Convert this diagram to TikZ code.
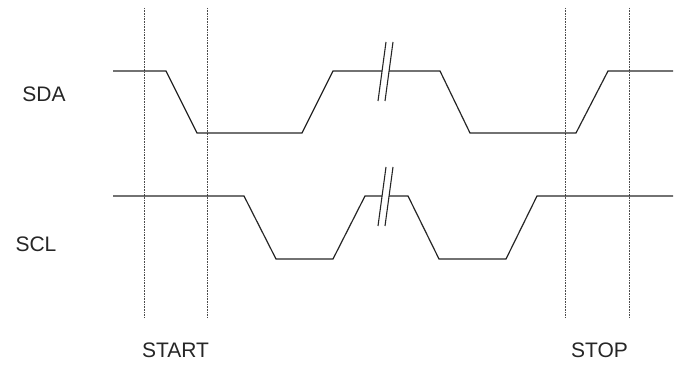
\documentclass[tikz,border=0pt]{standalone}
\usepackage{fontspec}
\setmainfont{Liberation Sans}
\begin{document}
\begin{tikzpicture}[x=1pt,y=-1pt,
  sig/.style={draw=black!85,line width=1.2pt,line join=miter},
  guide/.style={draw=black!70,line width=0.9pt,dash pattern=on 0.8pt off 0.8pt},
  brk/.style={draw=black!85,line width=1.1pt},
  lbl/.style={inner sep=0pt,font=\fontsize{21}{25}\selectfont,text=black!85}]
\useasboundingbox (0,0) rectangle (674,366);
% guide lines
\coordinate (g1t) at (144.5,8);  \coordinate (g1b) at (144.5,318);
\coordinate (g2t) at (207.5,8);  \coordinate (g2b) at (207.5,318);
\coordinate (g3t) at (565.5,8);  \coordinate (g3b) at (565.5,318);
\coordinate (g4t) at (629,8);    \coordinate (g4b) at (629,318);
\draw[guide] (g1t) -- (g1b);
\draw[guide] (g2t) -- (g2b);
\draw[guide] (g3t) -- (g3b);
\draw[guide] (g4t) -- (g4b);
% SDA
\draw[sig] (113,71) -- (166,71) -- (197,133) -- (302,133) -- (333,71) -- (382,71);
\draw[sig] (389,71) -- (440,71) -- (470,133) -- (576,133) -- (608,71) -- (673,71);
\draw[brk] (378,101) -- (386,42);
\draw[brk] (385,101) -- (393,42);
% SCL
\draw[sig] (113,196) -- (244,196) -- (276,259) -- (333,259) -- (365,196) -- (382,196);
\draw[sig] (389,196) -- (408,196) -- (439,259) -- (506,259) -- (537,196) -- (673,196);
\draw[brk] (378,226) -- (386,167);
\draw[brk] (385,226) -- (393,167);
% labels
\node[lbl] (sda) at (44,94.5) {SDA};
\node[lbl] (scl) at (36,244.5) {SCL};
\node[lbl] (start) at (175.5,350.5) {START};
\node[lbl] (stop) at (599.5,350.5) {STOP};
\end{tikzpicture}
\end{document}
